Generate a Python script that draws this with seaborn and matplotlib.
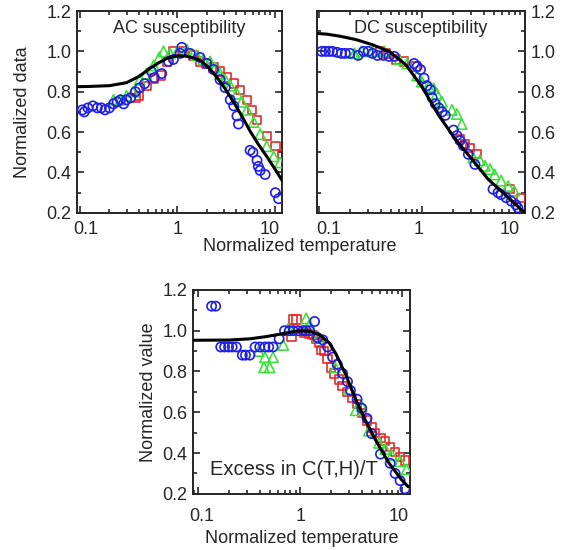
import matplotlib
matplotlib.use("Agg")
import matplotlib.pyplot as plt
import matplotlib.transforms as mtransforms
import numpy as np
import pandas as pd
import seaborn as sns
from matplotlib.ticker import FixedLocator, LogLocator, MultipleLocator, NullFormatter

# ---- AC susceptibility ----
ac_blue_x = [0.105, 0.11, 0.12, 0.135, 0.15, 0.165, 0.18, 0.2, 0.22, 0.24, 0.26, 0.28,
             0.3, 0.33, 0.37, 0.41, 0.46, 0.54, 0.58, 0.69, 0.81, 0.91, 1.07, 1.11,
             1.35, 1.71, 2.0, 2.35, 2.75, 3.1, 3.5, 3.8, 4.1, 4.25, 5.6, 6.0, 6.6, 6.8,
             7.1, 8.0, 10.2, 11.0]
ac_blue_y = [0.71, 0.70, 0.72, 0.73, 0.72, 0.72, 0.71, 0.72, 0.74, 0.75, 0.76, 0.74,
             0.76, 0.77, 0.80, 0.82, 0.84, 0.90, 0.87, 0.89, 0.95, 0.96, 0.99, 1.02,
             0.99, 0.97, 0.94, 0.91, 0.86, 0.82, 0.76, 0.73, 0.68, 0.64, 0.51, 0.50,
             0.46, 0.43, 0.41, 0.39, 0.30, 0.27]
ac_green_x = [0.22, 0.26, 0.3, 0.35, 0.41, 0.48, 0.57, 0.65, 0.72, 0.84, 1.0, 1.25, 1.58,
              1.85, 2.17, 2.45, 2.75, 3.1, 3.5, 4.1, 4.6, 5.2, 6.1, 7.1, 8.3, 9.8, 11.4]
ac_green_y = [0.76, 0.76, 0.78, 0.80, 0.86, 0.89, 0.93, 0.97, 1.0, 0.99, 1.0, 1.01, 0.98,
              0.96, 0.95, 0.92, 0.89, 0.86, 0.83, 0.79, 0.75, 0.71, 0.65, 0.59, 0.53,
              0.48, 0.45]
ac_red_x = [0.37, 0.4, 0.48, 0.57, 0.68, 0.78, 0.91, 1.15, 1.46, 1.7, 2.0, 2.35, 2.75,
            3.2, 3.8, 4.4, 5.2, 5.9, 6.6, 8.3, 10.2, 11.9]
ac_red_y = [0.77, 0.78, 0.83, 0.865, 0.88, 0.95, 1.0, 1.0, 0.98, 0.95, 0.94, 0.92, 0.9,
            0.87, 0.84, 0.81, 0.76, 0.71, 0.66, 0.58, 0.53, 0.49]
ac_fit_x = [0.09, 0.12, 0.2, 0.3, 0.4, 0.52, 0.65, 0.78, 0.92, 1.07, 1.3, 1.7, 2.1, 2.54,
            3.1, 3.78, 4.6, 5.6, 6.8, 8.3, 10.0, 12.2]
ac_fit_y = [0.825, 0.826, 0.83, 0.845, 0.875, 0.915, 0.945, 0.965, 0.975, 0.978, 0.975,
            0.957, 0.92, 0.873, 0.815, 0.75, 0.68, 0.605, 0.54, 0.48, 0.42, 0.354]

# ---- DC susceptibility ----
dc_blue_x = [0.106, 0.115, 0.125, 0.135, 0.15, 0.165, 0.18, 0.2, 0.24, 0.27, 0.3, 0.33,
             0.37, 0.42, 0.48, 0.54, 0.84, 0.9, 0.97, 1.05, 1.12, 1.21, 1.26, 1.35,
             1.46, 1.57, 1.69, 2.03, 2.19, 2.35, 2.53, 2.83, 3.28, 4.92, 5.5, 5.9,
             6.6, 7.4, 8.2, 8.6]
dc_blue_y = [1.0, 1.0, 1.0, 1.0, 0.995, 0.99, 0.99, 0.99, 0.98, 1.0, 1.0, 0.99, 0.98,
             0.98, 0.975, 0.975, 0.94, 0.925, 0.91, 0.867, 0.83, 0.81, 0.77, 0.74,
             0.72, 0.70, 0.683, 0.61, 0.583, 0.558, 0.533, 0.49, 0.44, 0.317, 0.30,
             0.29, 0.275, 0.258, 0.24, 0.225]
dc_green_x = [0.22, 0.26, 0.33, 0.43, 0.6, 0.72, 0.9, 1.0, 1.17, 1.3, 1.4, 1.57, 1.96,
              2.19, 2.44, 3.16, 3.66, 4.1, 4.6, 5.1, 5.9, 6.9, 7.9]
dc_green_y = [0.99, 1.0, 1.0, 1.0, 0.96, 0.94, 0.88, 0.85, 0.825, 0.817, 0.79, 0.75,
              0.71, 0.69, 0.64, 0.475, 0.46, 0.433, 0.417, 0.39, 0.36, 0.333, 0.31]
dc_red_x = [0.39, 0.45, 0.56, 0.67, 0.87, 2.35, 2.63, 2.94, 3.4, 7.1, 9.2]
dc_red_y = [1.0, 0.99, 0.96, 0.95, 0.925, 0.567, 0.54, 0.52, 0.49, 0.317, 0.275]
dc_fit_x = [0.09, 0.12, 0.16, 0.23, 0.33, 0.48, 0.7, 1.0, 1.46, 2.1, 3.05, 4.4, 6.4,
            9.2, 11.0]
dc_fit_y = [1.09, 1.085, 1.075, 1.058, 1.033, 1.0, 0.933, 0.825, 0.683, 0.567, 0.467,
            0.367, 0.292, 0.217, 0.19]

# ---- Excess in C(T,H)/T ----
ch_blue_x = [0.135, 0.148, 0.166, 0.181, 0.198, 0.215, 0.236, 0.27, 0.29, 0.32, 0.36,
             0.4, 0.45, 0.49, 0.54, 0.62, 0.7, 0.78, 0.85, 0.95, 1.06, 1.14, 1.23,
             1.38, 1.48, 1.66, 1.85, 2.07, 2.3, 2.6, 2.9, 3.1, 3.6, 4.0, 4.5, 5.0, 6.1,
             7.6, 8.5, 9.5, 10.6]
ch_blue_y = [1.12, 1.12, 0.92, 0.92, 0.92, 0.92, 0.92, 0.88, 0.88, 0.88, 0.92, 0.92,
             0.92, 0.92, 0.92, 0.96, 1.0, 1.0, 1.0, 1.0, 1.0, 1.0, 1.0, 1.045, 0.965,
             0.955, 0.92, 0.87, 0.835, 0.79, 0.75, 0.707, 0.664, 0.62, 0.57, 0.495,
             0.395, 0.35, 0.3, 0.265, 0.225]
ch_green_x = [0.39, 0.44, 0.5, 0.45, 0.54, 0.68, 0.76, 1.14, 1.23, 1.5, 2.2, 3.0, 3.5,
              4.0, 4.7, 5.9, 6.8, 7.9, 9.5, 11.0]
ch_green_y = [0.90, 0.82, 0.82, 0.87, 0.87, 0.93, 1.01, 1.06, 1.03, 0.97, 0.82, 0.715,
              0.61, 0.63, 0.51, 0.45, 0.42, 0.39, 0.36, 0.32]
ch_red_x = [0.85, 0.92, 0.82, 1.1, 1.23, 1.33, 1.43, 1.54, 1.6, 1.7, 1.85, 2.0, 2.15,
            2.4, 2.6, 2.9, 3.2, 3.6, 4.0, 4.5, 5.0, 5.4, 6.1, 6.8, 7.6, 8.5, 9.5, 10.6]
ch_red_y = [1.055, 1.055, 0.97, 0.99, 0.985, 0.98, 0.96, 0.94, 0.905, 0.9, 0.86, 0.82,
            0.79, 0.76, 0.73, 0.70, 0.67, 0.64, 0.595, 0.56, 0.526, 0.5, 0.475, 0.46,
            0.43, 0.406, 0.38, 0.363]
ch_fit_x = [0.09, 0.2, 0.32, 0.45, 0.59, 0.75, 0.91, 1.23, 1.54, 1.92, 2.23, 2.79, 3.48,
            4.35, 5.44, 7.3, 9.8, 11.4]
ch_fit_y = [0.953, 0.954, 0.96, 0.97, 0.98, 0.99, 0.998, 0.998, 0.98, 0.94, 0.887,
            0.784, 0.664, 0.56, 0.466, 0.355, 0.27, 0.235]

BLUE = "#1f1fe6"
RED = "#e52a2a"
GREEN = "#3ee03e"

sns.set_style("ticks")
plt.rcParams["font.family"] = ["Liberation Sans", "DejaVu Sans"]
plt.rcParams["font.size"] = 13


def style_axes(ax, xlim, xpad=6, shifts=(0, 0, 0)):
    ax.set_xscale("log")
    ax.set_xlim(*xlim)
    ax.set_ylim(0.2, 1.2)
    ax.xaxis.set_major_locator(FixedLocator([0.1, 1, 10]))
    ax.set_xticklabels(["0.1", "1", "10"])
    ax.xaxis.set_minor_locator(LogLocator(base=10, subs=np.arange(2, 10)))
    ax.xaxis.set_minor_formatter(NullFormatter())
    ax.yaxis.set_major_locator(MultipleLocator(0.2))
    ax.yaxis.set_minor_locator(MultipleLocator(0.1))
    ax.yaxis.set_major_formatter(plt.FuncFormatter(lambda v, p: f"{v:.1f}"))
    ax.tick_params(which="both", direction="in", top=True, right=True, width=1.2,
                   labelsize=13)
    ax.tick_params(axis="y", pad=4)
    ax.tick_params(axis="x", pad=xpad)
    ax.tick_params(which="major", length=5)
    ax.tick_params(which="minor", length=3)
    for s in ax.spines.values():
        s.set_linewidth(1.4)
    ax.set_xlabel("")
    ax.set_ylabel("")
    # the outer tick labels sit inside the frame, as in the source figure
    for lab, dx in zip(ax.get_xticklabels(), shifts):
        off = mtransforms.ScaledTranslation(dx / 100, 0, ax.figure.dpi_scale_trans)
        lab.set_transform(lab.get_transform() + off)


def draw_panel(ax, red, green, blue, fit):
    sns.scatterplot(x=red[0], y=red[1], ax=ax, marker="s", s=36, facecolors="none",
                    edgecolor=RED, linewidth=1.2, zorder=3)
    sns.scatterplot(x=green[0], y=green[1], ax=ax, marker="^", s=55, facecolors="none",
                    edgecolor=GREEN, linewidth=1.2, zorder=4)
    sns.scatterplot(x=blue[0], y=blue[1], ax=ax, marker="o", s=44, facecolors="none",
                    edgecolor=BLUE, linewidth=1.2, zorder=5)
    fit_df = pd.DataFrame({"x": fit[0], "y": fit[1]})
    sns.lineplot(data=fit_df, x="x", y="y", ax=ax, color="black", linewidth=2.2,
                 sort=False, estimator=None, zorder=6)


fig = plt.figure(figsize=(5.8, 5.5), dpi=100)
ax1 = fig.add_axes([0.133, 0.613, 0.353, 0.367])
ax2 = fig.add_axes([0.547, 0.613, 0.358, 0.367])
ax3 = fig.add_axes([0.333, 0.102, 0.374, 0.371])

draw_panel(ax1, (ac_red_x, ac_red_y), (ac_green_x, ac_green_y),
           (ac_blue_x, ac_blue_y), (ac_fit_x, ac_fit_y))
style_axes(ax1, (0.093, 11.9), shifts=(6, 0, -5))
ax1.set_ylabel("Normalized data", fontsize=13, labelpad=11)
ax1.text(0.5, 0.915, "AC susceptibility", transform=ax1.transAxes, ha="center",
         va="center", fontsize=13)

draw_panel(ax2, (dc_red_x, dc_red_y), (dc_green_x, dc_green_y),
           (dc_blue_x, dc_blue_y), (dc_fit_x, dc_fit_y))
style_axes(ax2, (0.096, 10.05), shifts=(10, -3, -15))
ax2.tick_params(labelleft=False, labelright=True)
ax2.text(0.5, 0.915, "DC susceptibility", transform=ax2.transAxes, ha="center",
         va="center", fontsize=13)

draw_panel(ax3, (ch_red_x, ch_red_y), (ch_green_x, ch_green_y),
           (ch_blue_x, ch_blue_y), (ch_fit_x, ch_fit_y))
style_axes(ax3, (0.089, 11.9), xpad=10, shifts=(3, 0, -4))
ax3.set_ylabel("Normalized value", fontsize=13, labelpad=4)
ax3.set_xlabel("Normalized temperature", fontsize=13, labelpad=4)
ax3.text(0.465, 0.12, "Excess in C(T,H)/T", transform=ax3.transAxes, ha="center",
         va="center", fontsize=14.5)

fig.text(0.517, 0.552, "Normalized temperature", ha="center", va="center", fontsize=13)

fig.savefig("out.png", dpi=100)
